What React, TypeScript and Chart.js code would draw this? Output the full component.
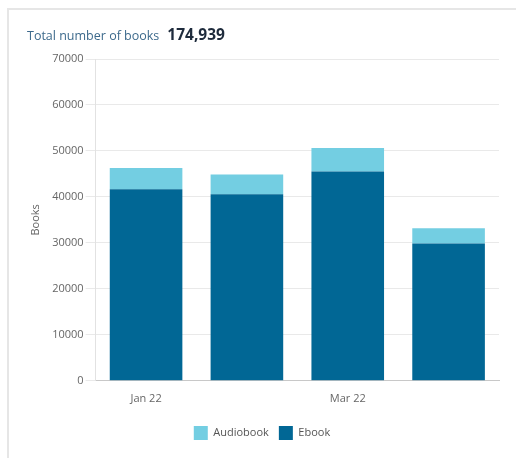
import React, { useEffect, useRef } from "react";
import { Chart, registerables } from "chart.js";

Chart.register(...registerables);

const categories = ["Jan 22", "Feb 22", "Mar 22", "Apr 22"];
const audiobookValues = [4650, 4300, 5070, 3289];
const ebookValues = [41650, 40560, 45550, 29870];
const totalLabel = "174,939";

const FONT = "'Open Sans', sans-serif";

export default function App() {
  const canvasRef = useRef<HTMLCanvasElement | null>(null);

  useEffect(() => {
    if (!canvasRef.current) return;
    const chart = new Chart(canvasRef.current, {
      type: "bar",
      data: {
        labels: categories,
        datasets: [
          {
            label: "Audiobook",
            data: audiobookValues,
            backgroundColor: "#73cee2",
            borderWidth: 0,
            stack: "s",
            order: 2,
          },
          {
            label: "Ebook",
            data: ebookValues,
            backgroundColor: "#016795",
            borderWidth: 0,
            stack: "s",
            order: 1,
          },
        ],
      },
      options: {
        animation: false,
        responsive: false,
        maintainAspectRatio: false,
        layout: { padding: { left: 25, right: 17, top: 59, bottom: 8 } },
        datasets: { bar: { barPercentage: 0.9, categoryPercentage: 0.8 } },
        scales: {
          x: {
            stacked: true,
            grid: { display: false, drawTicks: false },
            border: { display: true, color: "#c8c8c8", width: 1 },
            ticks: {
              maxTicksLimit: 2,
              autoSkip: true,
              maxRotation: 0,
              padding: 11,
              color: "#666",
              font: { family: FONT, size: 11 },
            },
          },
          y: {
            stacked: true,
            min: 0,
            max: 70000,
            ticks: {
              stepSize: 10000,
              color: "#666",
              padding: 2,
              font: { family: FONT, size: 11 },
              callback: (v) => String(v),
            },
            grid: { color: "#e9e9e9", tickLength: 10 },
            border: { display: true, color: "#e2e2e2" },
            title: {
              display: true,
              text: "Books",
              color: "#666",
              font: { family: FONT, size: 11 },
              padding: { top: 4, bottom: 8 },
            },
          },
        },
        plugins: {
          legend: {
            position: "bottom",
            labels: {
              boxWidth: 14,
              boxHeight: 14,
              padding: 10,
              color: "#555",
              font: { family: FONT, size: 11 },
              sort: (a, b) => (a.datasetIndex ?? 0) - (b.datasetIndex ?? 0),
            },
          },
          tooltip: { enabled: false },
        },
      },
    });
    return () => chart.destroy();
  }, []);

  return (
    <div style={{ position: "absolute", left: 0, top: 0, width: 516, height: 458, overflow: "hidden", background: "#fff" }}>
      <div
        style={{
          position: "absolute",
          left: 7,
          top: 8,
          width: 530,
          height: 470,
          border: "2px solid #e6e6e6",
          boxSizing: "border-box",
        }}
      />
      <canvas
        ref={canvasRef}
        width={516}
        height={458}
        style={{ position: "absolute", left: 0, top: 0, width: 516, height: 458 }}
      />
      <div
        style={{
          position: "absolute",
          left: 27,
          top: 23,
          fontFamily: FONT,
          whiteSpace: "nowrap",
          display: "flex",
          alignItems: "baseline",
        }}
      >
        <span style={{ fontSize: 12.5, color: "#3d6a8c" }}>Total number of books</span>
        <span style={{ fontSize: 15.5, fontWeight: 700, color: "#1e2b3c", marginLeft: 8 }}>{totalLabel}</span>
      </div>
    </div>
  );
}
